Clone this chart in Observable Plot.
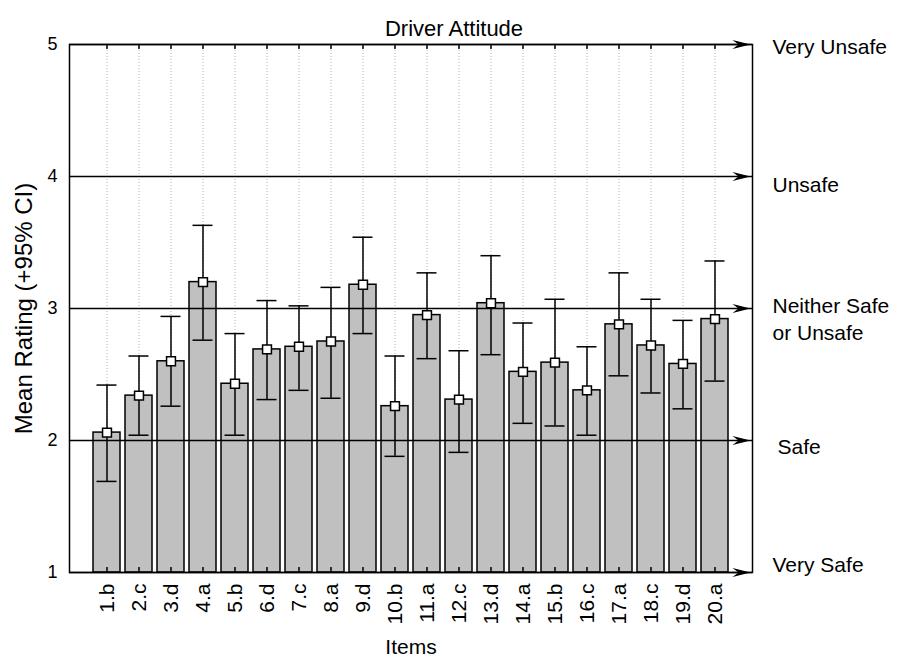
<!DOCTYPE html>
<html>
<head>
<meta charset="utf-8">
<script src="https://cdn.jsdelivr.net/npm/d3@7"></script>
<script src="https://cdn.jsdelivr.net/npm/@observablehq/plot@0.6"></script>
<style>
  html, body { margin: 0; padding: 0; background: #ffffff; }
  #chart svg { display: block; }
</style>
</head>
<body>
<div id="chart"></div>
<script>
// Survey items and their mean rating with 95% confidence limits
const items = ["1.b", "2.c", "3.d", "4.a", "5.b", "6.d", "7.c", "8.a", "9.d", "10.b",
               "11.a", "12.c", "13.d", "14.a", "15.b", "16.c", "17.a", "18.c", "19.d", "20.a"];
const means = [2.06, 2.34, 2.60, 3.20, 2.43, 2.69, 2.71, 2.75, 3.18, 2.26,
               2.95, 2.31, 3.04, 2.52, 2.59, 2.38, 2.88, 2.72, 2.58, 2.92];
const upper = [2.42, 2.64, 2.94, 3.63, 2.81, 3.06, 3.02, 3.16, 3.54, 2.64,
               3.27, 2.68, 3.40, 2.89, 3.07, 2.71, 3.27, 3.07, 2.91, 3.36];
const lower = [1.69, 2.04, 2.26, 2.76, 2.04, 2.31, 2.38, 2.32, 2.81, 1.88,
               2.62, 1.91, 2.65, 2.13, 2.11, 2.04, 2.49, 2.36, 2.24, 2.45];

// Rating scale levels and their verbal anchors
const levels = [1, 2, 3, 4, 5];
const levelLabels = ["Very Safe", "Safe", "Neither Safe\nor Unsafe", "Unsafe", "Very Unsafe"];

const title = "Driver Attitude";
const yTitle = "Mean Rating (+95% CI)";
const xTitle = "Items";

const data = items.map((item, i) => ({item, mean: means[i], lo: lower[i], hi: upper[i]}));

// pixel nudges for the anchor labels at the right of the frame
const labelShift = {1: [0, -9], 2: [5, 5], 3: [0, 9], 4: [0, 7], 5: [0, 1]};

// filled dart pointing right, tip at the symbol origin
const dart = {
  draw(context) {
    context.moveTo(0, 0);
    context.lineTo(-18, -4.5);
    context.lineTo(-12, 0);
    context.lineTo(-18, 4.5);
    context.closePath();
  }
};

const font = "'Liberation Sans', Arial, sans-serif";

const chart = Plot.plot({
  width: 900,
  height: 664,
  marginLeft: 69,
  marginRight: 148,
  marginTop: 44,
  marginBottom: 92,
  style: {fontFamily: font, background: "#ffffff", color: "#000000"},
  x: {domain: items, paddingInner: 0.17, paddingOuter: 0.585, label: null},
  y: {domain: [1, 5], label: null},
  marks: [
    Plot.gridX({stroke: "#b4b4b4", strokeOpacity: 1, strokeDasharray: "1,2"}),
    Plot.barY(data, {x: "item", y1: 1, y2: "mean", fill: "#c0c0c0", stroke: "#000000", strokeWidth: 1.5}),
    Plot.ruleY(levels, {stroke: "#000000", strokeWidth: 1.5}),
    Plot.dot(levels, {y: d => d, frameAnchor: "right", dx: -2, symbol: dart, r: 5, fill: "#000000", stroke: "none"}),
    Plot.ruleX(data, {x: "item", y1: "lo", y2: "hi", stroke: "#000000", strokeWidth: 1.5}),
    Plot.tickY(data, {x: "item", y: "hi", stroke: "#000000", strokeWidth: 1.5, insetLeft: 3.5, insetRight: 3.5}),
    Plot.tickY(data, {x: "item", y: "lo", stroke: "#000000", strokeWidth: 1.5, insetLeft: 3.5, insetRight: 3.5}),
    Plot.dot(data, {x: "item", y: "mean", symbol: "square", r: 5, fill: "#ffffff", stroke: "#000000", strokeWidth: 1.5}),
    // short inward ticks at the bottom and top edges
    Plot.ruleX(items, {x: d => d, insetTop: 523, stroke: "#000000", strokeWidth: 1.5}),
    Plot.ruleX(items, {x: d => d, insetBottom: 523, stroke: "#000000", strokeWidth: 1.5}),
    Plot.frame({stroke: "#000000", strokeWidth: 1.5}),
    Plot.axisY({ticks: levels, tickSize: 0, tickPadding: 12, fontSize: 18, tickFormat: d => d, label: null}),
    Plot.axisX({tickRotate: -90, tickSize: 0, tickPadding: 11, fontSize: 21, label: null}),
    Plot.text([title], {frameAnchor: "top", dx: 43, dy: -24, fontSize: 22}),
    Plot.text([yTitle], {frameAnchor: "left", textAnchor: "middle", rotate: -90, dx: -45, fontSize: 24}),
    Plot.text([xTitle], {frameAnchor: "bottom", dy: 81, fontSize: 21}),
    ...levels.map((v, i) => Plot.text([levelLabels[i]], {
      y: () => v,
      frameAnchor: "right",
      textAnchor: "start",
      dx: 20 + labelShift[v][0],
      dy: labelShift[v][1],
      fontSize: 21,
      lineHeight: 1.29
    }))
  ]
});

document.getElementById("chart").append(chart);
</script>
</body>
</html>
